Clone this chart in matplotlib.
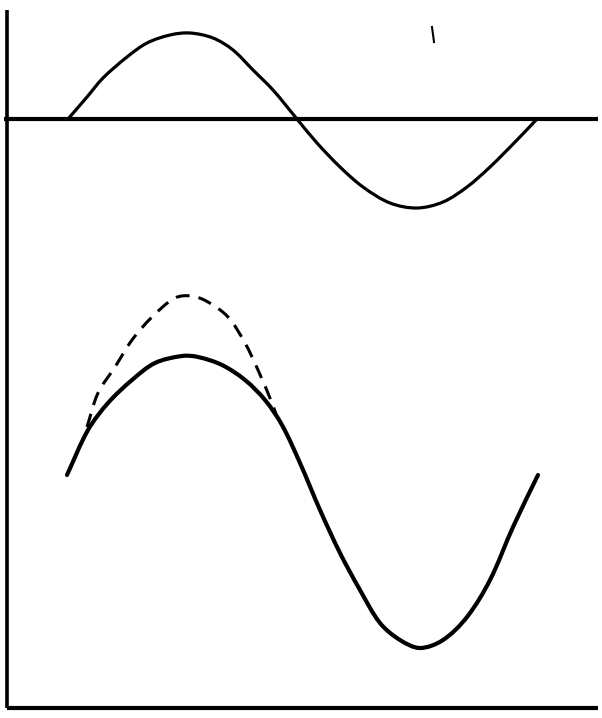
import matplotlib
matplotlib.use("Agg")
import matplotlib.pyplot as plt
from matplotlib.path import Path
from matplotlib.patches import PathPatch

# Upper wave: horizontal position and displacement from its baseline
top_x = [68, 87, 103, 127, 147, 170, 190, 213, 233, 253, 273, 297,
         317, 340, 363, 390, 417, 443, 467, 490, 517, 537]
top_y = [0, 22, 41, 62, 76, 84, 86, 81, 69, 49, 29, 0,
         -24, -48, -68, -84, -89, -83, -68, -48, -21, 0]

# Lower solid curve: horizontal position and height above the bottom line
low_x = [67, 88, 108, 132, 155, 182, 198, 222, 245, 265, 282, 300, 320,
         340, 360, 380, 400, 420, 443, 467, 490, 513, 538]
low_y = [233, 278, 305, 328, 345, 352, 351, 343, 328, 308, 283, 245, 198,
         155, 118, 85, 68, 60, 68, 91, 128, 181, 233]

# Dashed curve (higher crest)
dash_x = [87, 98, 115, 132, 152, 175, 192, 208, 228, 245, 258, 272, 277]
dash_y = [281, 315, 341, 368, 391, 410, 412, 406, 391, 365, 338, 305, 291]

W, H = 602, 718
BASE_TOP = 599   # height of upper horizontal line
BASE_BOT = 10    # height of bottom line
LEFT = 7


def smooth_path(xs, ys):
    """Bezier path through each given point, chord-length tangents."""
    pts = list(zip(xs, ys))
    n = len(pts)

    def dist(a, b):
        return ((a[0] - b[0]) ** 2 + (a[1] - b[1]) ** 2) ** 0.5

    tang = []
    for i in range(n):
        if i == 0:
            a, b = pts[0], pts[1]
            d = dist(a, b)
            tang.append(((b[0] - a[0]) / d, (b[1] - a[1]) / d))
        elif i == n - 1:
            a, b = pts[-2], pts[-1]
            d = dist(a, b)
            tang.append(((b[0] - a[0]) / d, (b[1] - a[1]) / d))
        else:
            a, b = pts[i - 1], pts[i + 1]
            d = dist(a, pts[i]) + dist(pts[i], b)
            tang.append(((b[0] - a[0]) / d, (b[1] - a[1]) / d))
    verts = [pts[0]]
    codes = [Path.MOVETO]
    for i in range(n - 1):
        p1, p2 = pts[i], pts[i + 1]
        d = dist(p1, p2) / 3.0
        c1 = (p1[0] + tang[i][0] * d, p1[1] + tang[i][1] * d)
        c2 = (p2[0] - tang[i + 1][0] * d, p2[1] - tang[i + 1][1] * d)
        verts += [c1, c2, p2]
        codes += [Path.CURVE4] * 3
    return Path(verts, codes)


fig = plt.figure(figsize=(W / 100, H / 100), dpi=100)
ax = fig.add_axes([0, 0, 1, 1])
ax.set_xlim(0, W)
ax.set_ylim(0, H)
ax.axis("off")

k = "black"
# frame lines
ax.plot([LEFT, LEFT], [BASE_BOT, 708], color=k, lw=2.6, solid_capstyle="butt")
ax.plot([LEFT, 598], [BASE_BOT, BASE_BOT], color=k, lw=3.0, solid_capstyle="butt")
ax.plot([4, 598], [BASE_TOP, BASE_TOP], color=k, lw=3.0, solid_capstyle="butt")

ax.add_patch(PathPatch(smooth_path(top_x, [BASE_TOP + v for v in top_y]),
                       fill=False, edgecolor=k, lw=2.3, capstyle="round",
                       joinstyle="round"))
ax.add_patch(PathPatch(smooth_path(low_x, [BASE_BOT + v for v in low_y]),
                       fill=False, edgecolor=k, lw=3.0, capstyle="round",
                       joinstyle="round"))
ax.add_patch(PathPatch(smooth_path(dash_x, [BASE_BOT + v for v in dash_y]),
                       fill=False, edgecolor=k, lw=2.2,
                       linestyle=(0, (4.5, 3.0))))

# small pen stroke near the top
ax.plot([432, 434], [H - 27, H - 42], color=k, lw=1.5)

fig.savefig("out.png", dpi=100)
